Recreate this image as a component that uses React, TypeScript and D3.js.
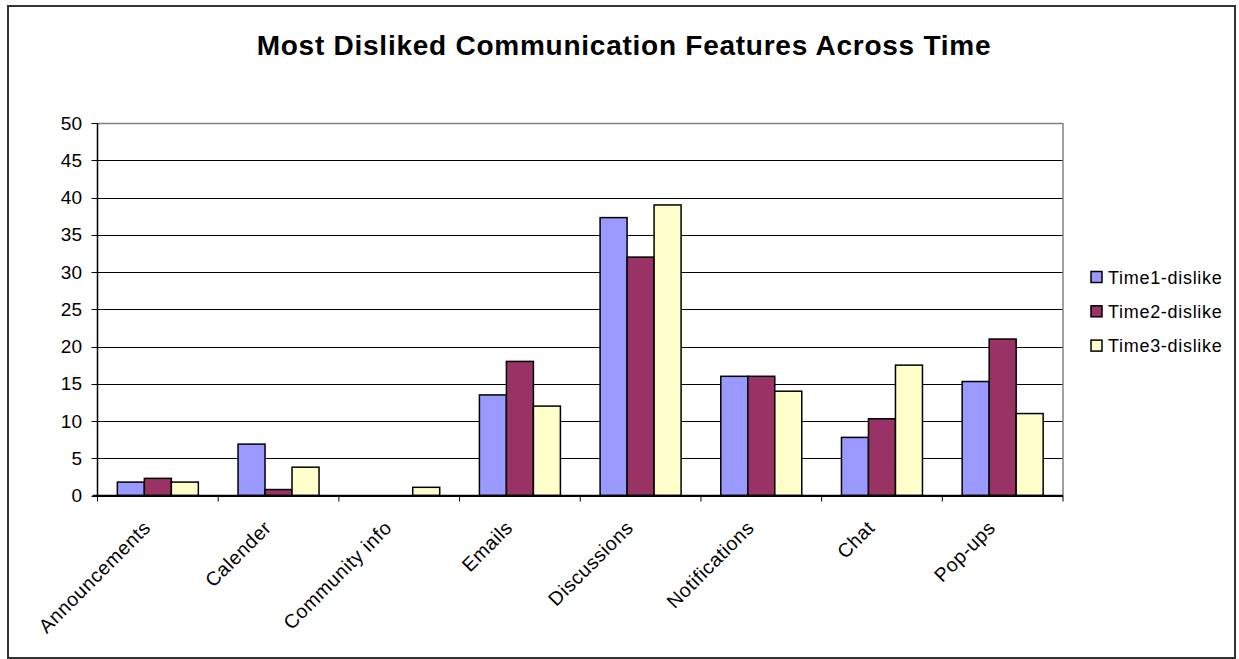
import React from "react";
import * as d3 from "d3";

const categories = ["Announcements", "Calender", "Community info", "Emails", "Discussions", "Notifications", "Chat", "Pop-ups"];
const seriesNames = ["Time1-dislike", "Time2-dislike", "Time3-dislike"];
const time1 = [1.8, 6.9, 0, 13.5, 37.3, 16, 7.8, 15.3];
const time2 = [2.3, 0.8, 0, 18, 32, 16, 10.3, 21];
const time3 = [1.8, 3.8, 1.1, 12, 39, 14, 17.5, 11];
const yTicks = [0, 5, 10, 15, 20, 25, 30, 35, 40, 45, 50];
const colors = ["#9999FF", "#993366", "#FFFFCC"];
const title = "Most Disliked Communication Features Across Time";

const W = 1239, H = 659;
const left = 97.5, right = 1063, top = 123, bottom = 495.5;
const font = "Liberation Sans, Arial, sans-serif";

export default function App() {
  const series = [time1, time2, time3];
  const x = d3.scaleBand<string>().domain(categories).range([left, right]).padding(0);
  const xs = d3.scaleBand<number>().domain([0, 1, 2]).range([0, x.bandwidth()]).paddingInner(0).paddingOuter(0.735);
  const y = d3.scaleLinear().domain([0, 50]).range([bottom, top]);

  return (
    <svg width={W} height={H} style={{ position: "absolute", left: 0, top: 0, background: "#fff" }} fontFamily={font}>
      <rect x={8} y={6} width={1227} height={652} fill="#fff" stroke="#333" strokeWidth={2} />
      <text x={624} y={55} textAnchor="middle" fontSize={28} fontWeight="bold" letterSpacing={0.75}>{title}</text>

      {/* gridlines */}
      {yTicks.map((t) => (
        <line key={"g" + t} x1={left} x2={right} y1={Math.round(y(t)) + 0.5} y2={Math.round(y(t)) + 0.5}
          stroke={t === 50 ? "#808080" : "#000"} strokeWidth={t === 50 ? 1.5 : 1} />
      ))}
      {/* plot border right */}
      <line x1={right} x2={right} y1={top} y2={bottom} stroke="#808080" strokeWidth={1.5} />

      {/* bars */}
      {categories.map((c, i) => (
        <g key={c} transform={`translate(${x(c)},0)`}>
          {series.map((s, j) => (
            s[i] > 0 ? (
              <rect key={j} x={xs(j)} y={y(s[i])} width={xs.bandwidth()} height={bottom - y(s[i])}
                fill={colors[j]} stroke="#000" strokeWidth={1.5} />
            ) : null
          ))}
        </g>
      ))}

      {/* axes */}
      <line x1={left} x2={left} y1={top} y2={bottom} stroke="#000" strokeWidth={1.5} />
      <line x1={left - 5} x2={right} y1={bottom} y2={bottom} stroke="#000" strokeWidth={1.5} />
      {yTicks.map((t) => (
        <g key={"yt" + t}>
          <line x1={left - 6} x2={left} y1={Math.round(y(t)) + 0.5} y2={Math.round(y(t)) + 0.5} stroke="#000" strokeWidth={1} />
          <text x={82} y={y(t) + 6.5} textAnchor="end" fontSize={19}>{t}</text>
        </g>
      ))}
      {categories.map((c, i) => (
        <line key={"xt" + c} x1={left + i * x.bandwidth()} x2={left + i * x.bandwidth()} y1={bottom} y2={bottom + 6} stroke="#000" strokeWidth={1} />
      ))}
      <line x1={right} x2={right} y1={bottom} y2={bottom + 6} stroke="#000" strokeWidth={1} />
      {categories.map((c) => {
        const cx = (x(c) as number) + x.bandwidth() / 2;
        return (
          <text key={"xl" + c} transform={`translate(${cx - 6},529) rotate(-45)`} textAnchor="end" fontSize={19.5} letterSpacing={0.6}>{c}</text>
        );
      })}

      {/* legend */}
      {seriesNames.map((n, j) => {
        const cy = 277 + j * 34.3;
        return (
          <g key={n}>
            <rect x={1091} y={cy - 5.5} width={11} height={11} fill={colors[j]} stroke="#000" strokeWidth={1.5} />
            <text x={1108} y={cy + 6.5} fontSize={18} letterSpacing={0.7}>{n}</text>
          </g>
        );
      })}
    </svg>
  );
}
